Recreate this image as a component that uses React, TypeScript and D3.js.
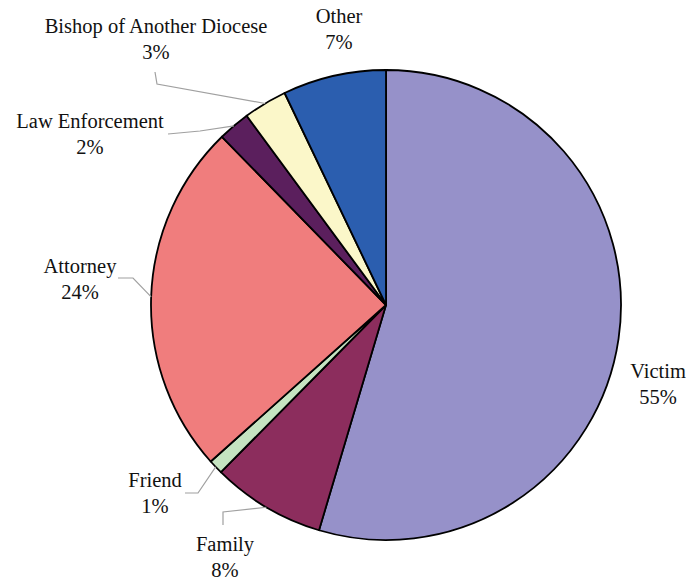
import React from "react";
import * as d3 from "d3";

const categories = ["Victim", "Family", "Friend", "Attorney", "Law Enforcement", "Bishop of Another Diocese", "Other"];
const shares = [54.6, 7.8, 1.0, 24.3, 2.2, 3.0, 7.1];
const colors = ["#9691C9", "#8C2D5D", "#C5E4C1", "#F07D7D", "#5B1F5D", "#FBF7C9", "#2B5EAF"];

// label layout: text centre x, first baseline y, leader start, leader elbow
const labelLayout = [
  { x: 658, y: 378, line: null },
  { x: 225, y: 551, line: [[223, 525], [223, 512]] },
  { x: 155, y: 487, line: [[185, 493], [198, 493]] },
  { x: 80, y: 273, line: [[118, 278], [133, 278]] },
  { x: 90, y: 128, line: [[168, 134], [200, 131]] },
  { x: 156, y: 33, line: [[155, 72], [157, 84]] },
  { x: 339, y: 23, line: null },
];

const W = 687;
const H = 580;
const cx = 386;
const cy = 305;
const R = 235;
const FONT = "Liberation Serif, DejaVu Serif, serif";

export default function App() {
  const pie = d3.pie<number>().sort(null).value((d) => d);
  const arcs = pie(shares);
  const arc = d3.arc<d3.PieArcDatum<number>>().innerRadius(0).outerRadius(R);
  const edge = d3.arc<d3.PieArcDatum<number>>().innerRadius(R).outerRadius(R);
  const lineGen = d3.line();

  return (
    <div style={{ position: "absolute", left: 0, top: 0 }}>
      <svg width={W} height={H} style={{ display: "block", background: "#fff" }}>
        <g transform={`translate(${cx},${cy})`}>
          {arcs.map((a, i) => (
            <path key={i} d={arc(a) || ""} fill={colors[i]} stroke="#000" strokeWidth={1.8} strokeLinejoin="round" />
          ))}
        </g>
        {arcs.map((a, i) => {
          const L = labelLayout[i];
          if (!L.line) return null;
          const [ex, ey] = edge.centroid(a);
          const pts: [number, number][] = [
            [L.line[0][0], L.line[0][1]],
            [L.line[1][0], L.line[1][1]],
            [cx + ex, cy + ey],
          ];
          return <path key={"l" + i} d={lineGen(pts) || ""} fill="none" stroke="#a0a0a0" strokeWidth={1.2} />;
        })}
        {arcs.map((a, i) => {
          const L = labelLayout[i];
          return (
            <text
              key={"t" + i}
              x={L.x}
              y={L.y}
              textAnchor="middle"
              style={{ fontFamily: FONT, fontSize: "20.5px" }}
              fill="#111"
            >
              <tspan x={L.x} y={L.y}>{categories[i]}</tspan>
              <tspan x={L.x} y={L.y + 26}>{Math.round(shares[i])}%</tspan>
            </text>
          );
        })}
      </svg>
    </div>
  );
}
